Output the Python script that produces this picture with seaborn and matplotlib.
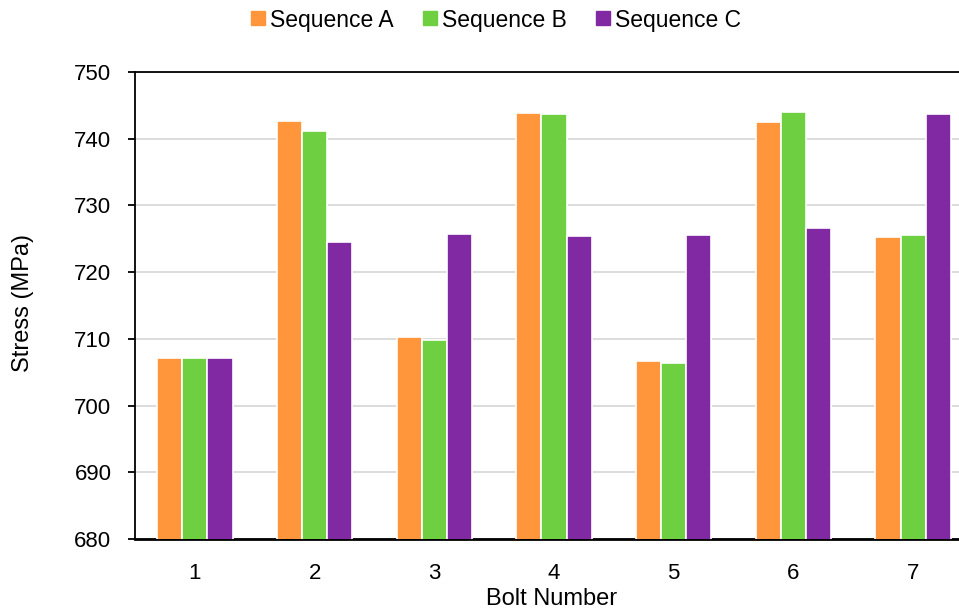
import pandas as pd
import seaborn as sns
import matplotlib.pyplot as plt
from matplotlib.lines import Line2D

bolts = ["1", "2", "3", "4", "5", "6", "7"]
sequences = ["Sequence A", "Sequence B", "Sequence C"]
seq_a = [707.2, 742.65, 710.25, 743.85, 706.65, 742.55, 725.25]
seq_b = [707.1, 741.2, 709.8, 743.75, 706.45, 744.0, 725.6]
seq_c = [707.15, 724.45, 725.75, 725.45, 725.5, 726.55, 743.75]
colors = ["#FF963C", "#6ED040", "#8129A3"]

df = pd.DataFrame({
    "Bolt": bolts * 3,
    "Sequence": [s for s in sequences for _ in bolts],
    "Stress": seq_a + seq_b + seq_c,
})

sns.set_style("white")
plt.rcParams["font.family"] = ["Liberation Sans", "DejaVu Sans"]
plt.rcParams["font.size"] = 16
plt.rcParams["text.color"] = "black"
plt.rcParams["axes.labelcolor"] = "black"
plt.rcParams["xtick.color"] = "black"
plt.rcParams["ytick.color"] = "black"

fig = plt.figure(figsize=(9.59, 6.15), dpi=100)
ax = fig.add_axes([135 / 959, 76 / 615, 838 / 959, 467 / 615])

sns.barplot(
    data=df, x="Bolt", y="Stress", hue="Sequence", order=bolts,
    hue_order=sequences, palette=colors, saturation=1, errorbar=None,
    width=0.63, edgecolor="white", linewidth=1.2, legend=False, ax=ax, zorder=3
)

ax.set_ylim(680, 750)
ax.set_xlim(-0.5, 6.5)
ax.set_yticks(range(680, 751, 10))
ax.yaxis.grid(True, color="#D9D9D9", linewidth=1.3, zorder=0)
ax.set_axisbelow(True)

for side in ["left", "top"]:
    ax.spines[side].set_color("black")
    ax.spines[side].set_linewidth(1.3)
ax.spines["bottom"].set_color("black")
ax.spines["bottom"].set_linewidth(2.0)
ax.spines["right"].set_visible(False)

ax.tick_params(axis="y", which="major", left=True, length=5, width=1.3,
               color="black", pad=12, labelsize=16)
ax.tick_params(axis="x", bottom=False, pad=14, labelsize=16)

ax.set_xlabel("Bolt Number", fontsize=17)
ax.set_ylabel("Stress (MPa)", fontsize=17)
ax.xaxis.set_label_coords((552 - 135) / 838, -0.128)
ax.yaxis.set_label_coords((23 - 135) / 838, (539 - 303) / 467)
ax.xaxis.label.set_va("center")
ax.yaxis.label.set_va("center")

handles = [Line2D([], [], linestyle="none", marker="s", markersize=9.5,
                  markerfacecolor=c, markeredgecolor=c) for c in colors]
fig.legend(handles, sequences, loc="center", bbox_to_anchor=(496 / 959, 1 - 20 / 615),
           ncol=3, frameon=False, handlelength=0.6, handletextpad=0.2,
           columnspacing=1.3, fontsize=16.5)

fig.savefig("out.png", dpi=100)
